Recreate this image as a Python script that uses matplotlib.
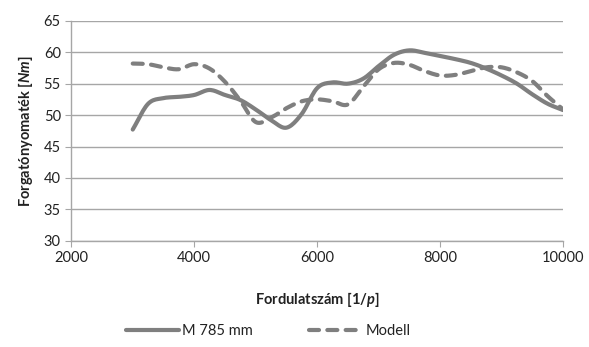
import matplotlib
matplotlib.use('Agg')

import numpy as np
import matplotlib.pyplot as plt

plt.rcParams['font.family'] = ['Lato', 'DejaVu Sans']
plt.rcParams['mathtext.fontset'] = 'custom'
plt.rcParams['mathtext.it'] = 'Lato:bold:italic'
plt.rcParams['mathtext.rm'] = 'Lato:bold'

rpm = [3000, 3250, 3500, 3750, 4000, 4250, 4500, 4750, 5000, 5250,
       5500, 5750, 6000, 6250, 6500, 6750, 7000, 7250, 7500, 7750,
       8000, 8250, 8500, 8750, 9000, 9250, 9500, 9750, 10000]
measured = [47.7, 51.8, 52.7, 52.9, 53.2, 54.0, 53.2, 52.4, 50.9, 49.2,
            48.0, 50.2, 54.3, 55.2, 55.0, 55.8, 57.8, 59.6, 60.3, 59.9,
            59.4, 58.9, 58.3, 57.4, 56.3, 55.0, 53.3, 51.8, 50.8]
model = [58.2, 58.1, 57.6, 57.3, 58.1, 57.4, 55.3, 52.3, 48.9, 49.6,
         51.1, 52.2, 52.5, 52.2, 51.7, 54.5, 57.3, 58.3, 58.0, 57.0,
         56.3, 56.4, 57.0, 57.6, 57.6, 56.8, 55.4, 53.0, 50.9]


def smooth(x, y, n=12):
    # Catmull-Rom through every point, like a spreadsheet's smoothed line
    x = np.asarray(x, float)
    y = np.asarray(y, float)
    px = np.concatenate([[2 * x[0] - x[1]], x, [2 * x[-1] - x[-2]]])
    py = np.concatenate([[2 * y[0] - y[1]], y, [2 * y[-1] - y[-2]]])
    t = np.linspace(0, 1, n, endpoint=False)[:, None]
    out_x, out_y = [], []
    for i in range(1, len(px) - 2):
        for p, out in ((px, out_x), (py, out_y)):
            p0, p1, p2, p3 = p[i - 1], p[i], p[i + 1], p[i + 2]
            seg = 0.5 * (2 * p1 + (-p0 + p2) * t + (2 * p0 - 5 * p1 + 4 * p2 - p3) * t ** 2
                         + (-p0 + 3 * p1 - 3 * p2 + p3) * t ** 3)
            out.extend(seg.ravel())
    out_x.append(x[-1])
    out_y.append(y[-1])
    return np.array(out_x), np.array(out_y)


grey = '#7f7f7f'
fig = plt.figure(figsize=(5.89, 3.47), dpi=100)
ax = fig.add_axes([0.121, 0.306, 0.835, 0.634])

sx, sy = smooth(rpm, measured)
ax.plot(sx, sy, color=grey, linewidth=3, solid_capstyle='round', label='M 785 mm')
mx, my = smooth(rpm, model)
ax.plot(mx, my, color=grey, linewidth=3, dashes=(2.4, 2.0), dash_capstyle='round',
        label='Modell')

ax.set_xlim(2000, 10000)
ax.set_ylim(30, 65)
ax.set_xticks(range(2000, 10001, 2000))
ax.set_yticks(range(30, 66, 5))
ax.grid(axis='y', color='#a6a6a6', linewidth=1)
ax.set_axisbelow(True)
for side in ('top', 'right'):
    ax.spines[side].set_visible(False)
for side in ('left', 'bottom'):
    ax.spines[side].set_color('#a6a6a6')
    ax.spines[side].set_linewidth(1)
ax.tick_params(colors='#a6a6a6', labelcolor='#222222', labelsize=10.5, length=4)

ax.set_xlabel('Fordulatszám [$1/p$]', fontsize=10.5, fontweight='bold', color='#222222',
              labelpad=18)
ax.set_ylabel('Forgatónyomaték [$Nm$]', fontsize=10.5, fontweight='bold', color='#222222',
              labelpad=6)

fig.legend(loc='center', bbox_to_anchor=(0.455, 0.045), ncol=2, frameon=False,
           fontsize=10.5, handlelength=3.7, columnspacing=3.8, handletextpad=0.2,
           labelcolor='#222222')

fig.savefig('out.png', dpi=100)
